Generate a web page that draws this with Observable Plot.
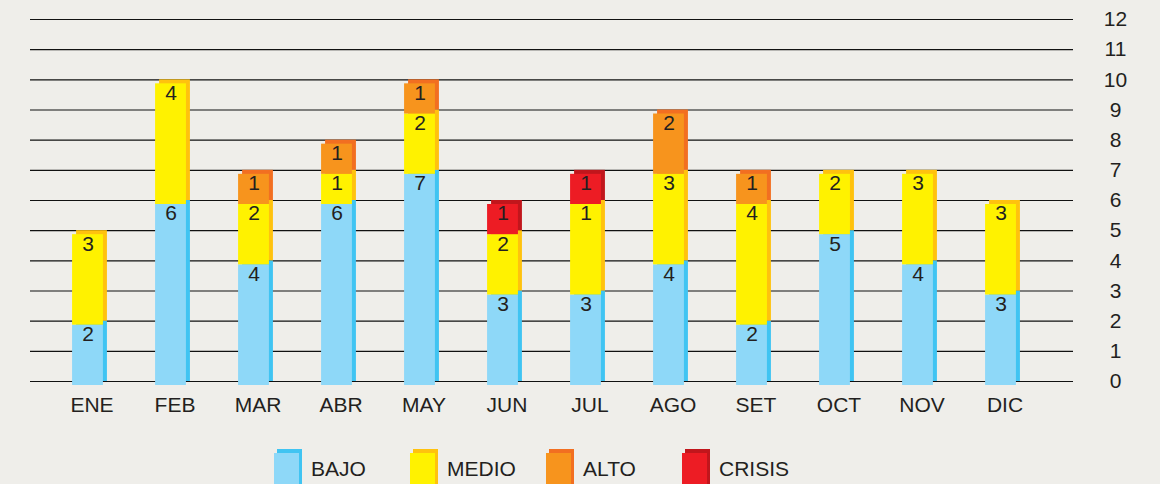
<!DOCTYPE html>
<html>
<head>
<meta charset="utf-8">
<script src="https://cdn.jsdelivr.net/npm/d3@7"></script>
<script src="https://cdn.jsdelivr.net/npm/@observablehq/plot@0.6"></script>
<style>
  html, body { margin: 0; padding: 0; background: #efeeea; }
  #chart { width: 1160px; }
  #legend { position: relative; width: 1160px; height: 44px; overflow: hidden; font-family: "Liberation Sans", Arial, sans-serif; color: #231f20; }
  .sw { position: absolute; width: 25px; }
  .lt { position: absolute; font-size: 21px; line-height: 21px; top: 18px; }
</style>
</head>
<body>
<div id="chart"></div>
<div id="legend"></div>
<script>
// ---- data ----
const months = ["ENE","FEB","MAR","ABR","MAY","JUN","JUL","AGO","SET","OCT","NOV","DIC"];
const levels = ["BAJO","MEDIO","ALTO","CRISIS"];
const bajo   = [2,6,4,6,7,3,3,4,2,5,4,3];
const medio  = [3,4,2,1,2,2,3,3,4,2,3,3];
const alto   = [0,0,1,1,1,0,0,2,1,0,0,0];
const crisis = [0,0,0,0,0,1,1,0,0,0,0,0];
// labels as printed in the original (JUL medio reads "1")
const bajoLabels   = ["2","6","4","6","7","3","3","4","2","5","4","3"];
const medioLabels  = ["3","4","2","1","2","2","1","3","4","2","3","3"];
const altoLabels   = ["","","1","1","1","","","2","1","","",""];
const crisisLabels = ["","","","","","1","1","","","","",""];
const yTicks = [0,1,2,3,4,5,6,7,8,9,10,11,12];

// ---- styles ----
const frontColors = {BAJO: "#8ed8f8", MEDIO: "#fff200", ALTO: "#f7941d", CRISIS: "#ed1c24"};
const backColors  = {BAJO: "#40c4f2", MEDIO: "#ffc20e", ALTO: "#f26f21", CRISIS: "#c1161c"};

const series = [bajo, medio, alto, crisis];
const seriesLabels = [bajoLabels, medioLabels, altoLabels, crisisLabels];
const rows = [];
months.forEach((m, i) => {
  levels.forEach((lv, k) => {
    const v = series[k][i];
    if (v > 0) rows.push({month: m, level: lv, value: v, label: seriesLabels[k][i]});
  });
});

const bandStep = 83.16;
const inset = (bandStep - 31) / 2;

const chart = Plot.plot({
  width: 1160,
  height: 440,
  marginLeft: 30,
  marginRight: 87,
  marginTop: 19,
  marginBottom: 59,
  style: {background: "transparent", fontFamily: "'Liberation Sans', Arial, sans-serif", fontSize: "21px", color: "#231f20"},
  x: {type: "band", domain: months, range: [47.1, 1045.1], padding: 0, label: null},
  y: {domain: [0, 12], label: null},
  marks: [
    Plot.ruleY(yTicks, {stroke: "#111111", strokeWidth: 1.1}),
    Plot.barY(rows, Plot.stackY({x: "month", y: "value", fill: d => backColors[d.level], insetLeft: inset, insetRight: inset, dx: 2})),
    Plot.barY(rows, Plot.stackY({x: "month", y: "value", fill: d => frontColors[d.level], insetLeft: inset, insetRight: inset, dx: -2, dy: 4})),
    Plot.text(rows, Plot.stackY2({x: "month", y: "value", text: "label", lineAnchor: "top", dx: -2, dy: 5, fontSize: 21, fill: "#231f20"})),
    Plot.axisX({tickSize: 0, tickPadding: 16, fontSize: 21, dx: 2}),
    Plot.axisY({anchor: "right", ticks: yTicks, tickSize: 0, tickPadding: 42, textAnchor: "middle", fontSize: 21, tickFormat: d => String(d)})
  ]
});
document.getElementById("chart").appendChild(chart);

// ---- legend (HTML, below the SVG) ----
const legend = document.getElementById("legend");
const legendLeft = [274, 410, 546, 682];
levels.forEach((lv, k) => {
  const L = legendLeft[k];
  const back = document.createElement("div");
  back.className = "sw";
  back.style.cssText = `left:${L + 3}px;top:9px;height:35px;background:${backColors[lv]}`;
  const front = document.createElement("div");
  front.className = "sw";
  front.style.cssText = `left:${L}px;top:13px;height:35px;background:${frontColors[lv]}`;
  const t = document.createElement("div");
  t.className = "lt";
  t.style.left = (L + 37) + "px";
  t.textContent = lv;
  legend.append(back, front, t);
});
</script>
</body>
</html>
